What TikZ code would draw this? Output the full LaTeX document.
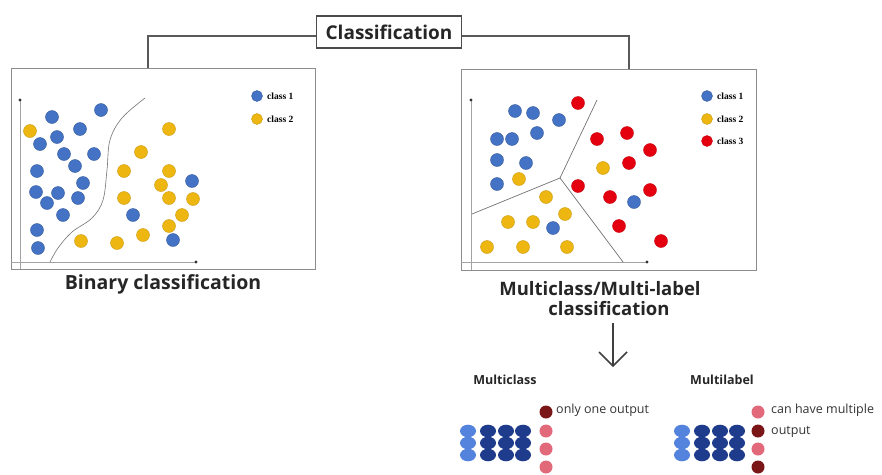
\documentclass[tikz,border=0pt]{standalone}
\usepackage{fontspec}
\setmainfont{Open Sans}
\newfontfamily\legendfont{Liberation Serif}
\usetikzlibrary{arrows.meta,calc}
\definecolor{cblue}{HTML}{4472C4}
\definecolor{cyellow}{HTML}{EDB611}
\definecolor{cred}{HTML}{E50010}
\definecolor{navy}{HTML}{1F3C8C}
\definecolor{lblue}{HTML}{5483DE}
\definecolor{dred}{HTML}{7A1518}
\definecolor{pink}{HTML}{E2697A}
\definecolor{frame}{HTML}{8C8C8C}
\begin{document}
\begin{tikzpicture}[x=1pt,y=-1pt,
  panel/.style={draw=frame,line width=1pt,fill=white,inner sep=0},
  axis/.style={draw=frame!80,line width=0.6pt},
  title/.style={font=\bfseries\fontsize{19}{20}\selectfont,align=center,text=black!85},
  legend/.style={font=\legendfont\bfseries\fontsize{9.5}{10}\selectfont,anchor=west,inner sep=1pt},
  small/.style={font=\fontsize{12.5}{14}\selectfont,anchor=west,inner sep=1pt,text=black!80},
  head/.style={font=\bfseries\fontsize{12.5}{14}\selectfont,text=black!85}]
\useasboundingbox (0,0) rectangle (882,474);

% title and the two panel frames
\node[draw=black!70,line width=1.2pt,minimum width=145pt,minimum height=32pt,inner sep=2pt,title] (cls) at (389,32) {Classification};
\node[panel,minimum width=304pt,minimum height=201pt] (lp) at (163,168.5) {};
\node[panel,minimum width=295pt,minimum height=201pt] (rp) at (608.5,169.5) {};
\draw[black!65,line width=1.2pt] ([yshift=-4pt]cls.west) -| ([xshift=-15pt]lp.north);
\draw[black!65,line width=1.2pt] ([yshift=-4pt]cls.east) -| ([xshift=20.5pt]rp.north);

% ---- binary panel ----
\draw[axis] (20,100) -- (20,269);
\draw[axis] (11,262) -- (196,262);
\fill[black!80] (20,100) circle (1.6) (196,262) circle (1.6);
\draw[black!55,line width=0.6pt] plot[smooth,tension=0.6] coordinates
  {(145,98) (122,118) (110,140) (107,170) (103,200) (92,218) (72,232) (58,248) (50,262)};
\foreach \p in {(101,110),(52,117),(80,129),(57,137),(40,144),(64,154),(94,154),(75,166),
  (37,171),(83,183),(36,192),(58,193),(78,198),(47,203),(63,215),(37,230),(38,248),
  (133,215),(192,181),(173,240)}
  \filldraw[fill=cblue,draw=cblue!80!black,line width=0.4pt] \p circle (6.5);
\foreach \p in {(30,131),(169,129),(141,152),(124,171),(169,171),(161,185),(124,198),
  (169,198),(193,199),(182,215),(169,226),(143,235),(81,241),(117,243)}
  \filldraw[fill=cyellow,draw=cyellow!85!black,line width=0.4pt] \p circle (6.5);
\filldraw[fill=cblue,draw=cblue!80!black,line width=0.4pt] (257,96) circle (5.5);
\filldraw[fill=cyellow,draw=cyellow!85!black,line width=0.4pt] (257,119) circle (5.5);
\node[legend] (l1) at (266,96) {class 1};
\node[legend] (l2) at (266,119) {class 2};
\node[title,font=\bfseries\fontsize{19.5}{20}\selectfont] (bt) at (163,284) {Binary classification};

% ---- multiclass panel ----
\draw[axis] (471,100) -- (471,270);
\draw[axis] (461,262) -- (647,262);
\fill[black!80] (471,100) circle (1.6) (647,262) circle (1.6);
\coordinate (c) at (560,178);
\draw[black!55,line width=0.7pt] (c) -- (597,100) (c) -- (472,214) (c) -- (623,262);
\foreach \p in {(515,111),(533,113),(559,120),(537,133),(497,139),(512,139),(497,160),
  (526,163),(497,184),(553,228),(634,202)}
  \filldraw[fill=cblue,draw=cblue!80!black,line width=0.4pt] \p circle (6.5);
\foreach \p in {(519,179),(546,197),(565,214),(508,222),(533,222),(487,247),(523,247),
  (567,247),(603,168)}
  \filldraw[fill=cyellow,draw=cyellow!85!black,line width=0.4pt] \p circle (6.5);
\foreach \p in {(578,103),(597,139),(627,133),(650,150),(629,163),(578,186),(610,197),
  (650,190),(619,226),(661,241)}
  \filldraw[fill=cred,draw=cred!85!black,line width=0.4pt] \p circle (6.5);
\filldraw[fill=cblue,draw=cblue!80!black,line width=0.4pt] (707,96) circle (5.5);
\filldraw[fill=cyellow,draw=cyellow!85!black,line width=0.4pt] (707,119) circle (5.5);
\filldraw[fill=cred,draw=cred!85!black,line width=0.4pt] (707,141) circle (5.5);
\node[legend] (r1) at (716,96) {class 1};
\node[legend] (r2) at (716,119) {class 2};
\node[legend] (r3) at (716,141) {class 3};
\node[title,inner sep=0pt,font=\bfseries\fontsize{18.5}{20}\selectfont] (mt) at (600,299) {Multiclass/Multi-label\\\hspace*{18pt}classification};

% arrow down to the two output schemes
\coordinate (as) at (613,323);
\coordinate (ae) at (613,366);
\draw[black!75,line width=1.6pt] (as) -- (ae);
\draw[black!75,line width=1.6pt,line join=miter] ([xshift=-14pt,yshift=14pt]ae) -- (ae) -- ([xshift=14pt,yshift=14pt]ae);

% ---- multiclass / multilabel outputs ----
\node[head] (mc) at (505,380) {Multiclass};
\node[head] (ml) at (722,380) {Multilabel};
\foreach \y in {431,443,455}{
  \fill[lblue] (468,\y) ellipse (8 and 6.3);
  \foreach \x in {488,506,523} \fill[navy] (\x,\y) ellipse (8 and 6.3);
  \fill[lblue] (682,\y) ellipse (8 and 6.3);
  \foreach \x in {702,720,737} \fill[navy] (\x,\y) ellipse (8 and 6.3);
}
\fill[dred] (546,412) circle (6.5);
\foreach \y in {431,449,467} \fill[pink] (546,\y) circle (6.5);
\fill[pink] (758,412) circle (6.5);
\fill[dred] (758,431) circle (6.5);
\fill[pink] (758,449) circle (6.5);
\fill[dred] (758,467) circle (6.5);
\node[small] (t1) at (555,410) {only one output};
\node[small] (t2) at (770,410) {can have multiple};
\node[small] (t3) at (770,432) {output};
\end{tikzpicture}
\end{document}
